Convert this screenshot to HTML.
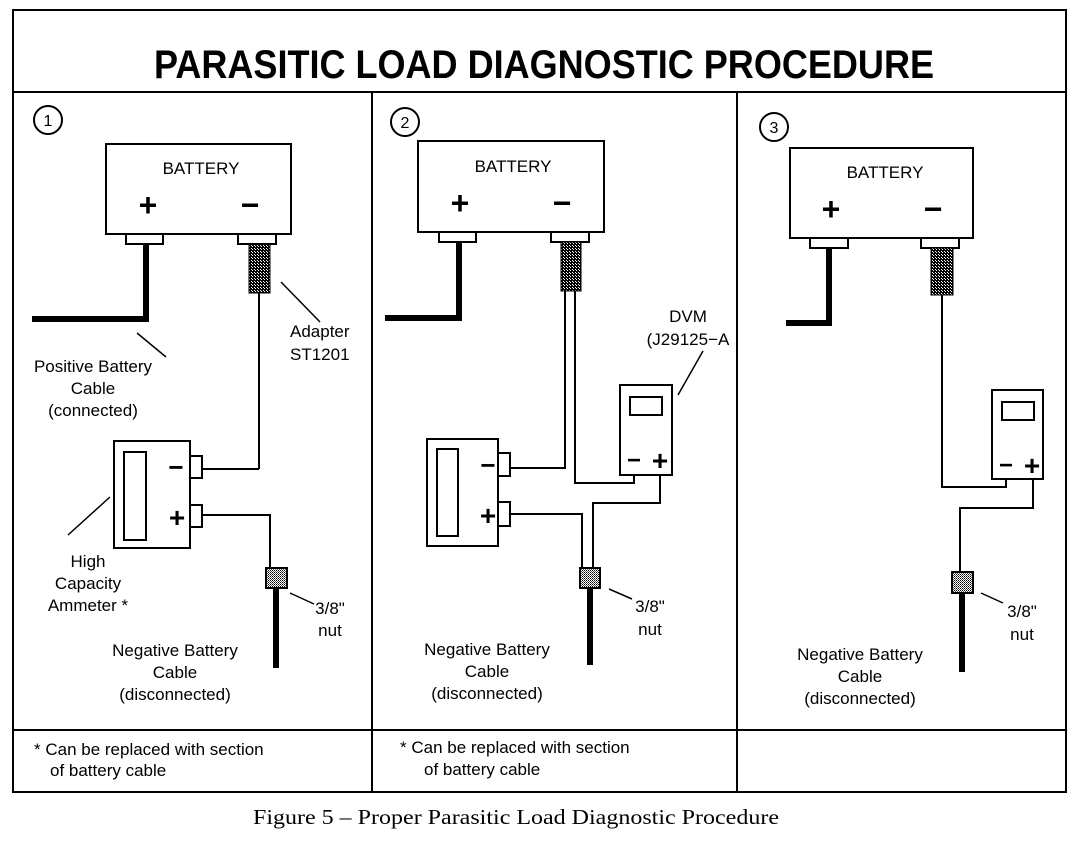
<!DOCTYPE html>
<html><head><style>
body{margin:0;background:#fff;width:1088px;height:848px;overflow:hidden}
svg text{font-family:"Liberation Sans",sans-serif;fill:#000}
</style></head><body>
<svg width="1088" height="848" viewBox="0 0 1088 848" xmlns="http://www.w3.org/2000/svg">
<defs>
<pattern id="h" width="3" height="3" patternUnits="userSpaceOnUse"><rect width="3" height="3" fill="#000"/><rect x="0" y="0" width="1" height="1" fill="#fff"/><rect x="2" y="2" width="1" height="1" fill="#fff"/></pattern>
<pattern id="n" width="2" height="2" patternUnits="userSpaceOnUse"><rect width="2" height="2" fill="#fff"/><rect width="1" height="1" fill="#000"/><rect x="1" y="1" width="1" height="1" fill="#555"/></pattern>
</defs>
<g fill="none" stroke="#000" stroke-width="2">
<rect x="13" y="10" width="1053" height="782"/>
<line x1="13" y1="92" x2="1066" y2="92"/>
<line x1="13" y1="730" x2="1066" y2="730"/>
<line x1="372" y1="92" x2="372" y2="792"/>
<line x1="737" y1="92" x2="737" y2="792"/>
</g>
<text x="544" y="78" font-size="40" font-weight="bold" text-anchor="middle" textLength="780" lengthAdjust="spacingAndGlyphs">PARASITIC LOAD DIAGNOSTIC PROCEDURE</text>

<!-- Panel 1 -->
<g fill="none" stroke="#000" stroke-width="2">
<circle cx="48" cy="120" r="14"/>
<rect x="106" y="144" width="185" height="90"/>
<rect x="126" y="234" width="37" height="10"/>
<rect x="238" y="234" width="38" height="10"/>
<path d="M146 244 V319 H32" stroke-width="6"/>
<line x1="259" y1="293" x2="259" y2="469"/>
<path d="M259 469 H203"/>
<path d="M203 515 H270 V568"/>
<rect x="114" y="441" width="76" height="107"/>
<rect x="124" y="452" width="22" height="88"/>
<rect x="190" y="456" width="12" height="22"/>
<rect x="190" y="505" width="12" height="22"/>
<line x1="276" y1="588" x2="276" y2="668" stroke-width="6"/>
<line x1="137" y1="333" x2="166" y2="357" stroke-width="1.5"/>
<line x1="281" y1="282" x2="320" y2="322" stroke-width="1.5"/>
<line x1="68" y1="535" x2="110" y2="497" stroke-width="1.5"/>
<line x1="290" y1="593" x2="314" y2="604" stroke-width="1.5"/>
</g>
<rect x="249" y="244" width="21" height="49" fill="url(#h)" stroke="#000"/>
<rect x="266" y="568" width="21" height="20" fill="url(#n)" stroke="#000" stroke-width="2"/>
<text x="48" y="126" font-size="16" text-anchor="middle">1</text>
<text x="201" y="174" font-size="17" text-anchor="middle">BATTERY</text>
<text x="148" y="216" font-size="32" font-weight="bold" text-anchor="middle">+</text>
<text x="250" y="216" font-size="32" font-weight="bold" text-anchor="middle">−</text>
<text x="176" y="476" font-size="26" font-weight="bold" text-anchor="middle">−</text>
<text x="177" y="527" font-size="28" font-weight="bold" text-anchor="middle">+</text>
<text font-size="17" text-anchor="middle"><tspan x="93" y="372">Positive Battery</tspan><tspan x="93" y="394">Cable</tspan><tspan x="93" y="416">(connected)</tspan></text>
<text font-size="17"><tspan x="290" y="337">Adapter</tspan><tspan x="290" y="360">ST1201</tspan></text>
<text font-size="17" text-anchor="middle"><tspan x="88" y="567">High</tspan><tspan x="88" y="589">Capacity</tspan><tspan x="88" y="611">Ammeter  *</tspan></text>
<text font-size="17" text-anchor="middle"><tspan x="330" y="614">3/8"</tspan><tspan x="330" y="636">nut</tspan></text>
<text font-size="17" text-anchor="middle"><tspan x="175" y="656">Negative Battery</tspan><tspan x="175" y="678">Cable</tspan><tspan x="175" y="700">(disconnected)</tspan></text>
<text font-size="17"><tspan x="34" y="755">*  Can be replaced with section</tspan><tspan x="50" y="776">of battery cable</tspan></text>

<!-- Panel 2 -->
<g fill="none" stroke="#000" stroke-width="2">
<circle cx="405" cy="122" r="14"/>
<rect x="418" y="141" width="186" height="91"/>
<rect x="439" y="232" width="37" height="10"/>
<rect x="551" y="232" width="38" height="10"/>
<path d="M459 242 V318 H385" stroke-width="6"/>
<path d="M565 291 V468 H510"/>
<path d="M575 291 V483 H634 V475"/>
<path d="M660 475 V503 H593 V568"/>
<path d="M510 514 H582 V568"/>
<rect x="620" y="385" width="52" height="90"/>
<rect x="630" y="397" width="32" height="18"/>
<rect x="427" y="439" width="71" height="107"/>
<rect x="437" y="449" width="21" height="87"/>
<rect x="498" y="453" width="12" height="23"/>
<rect x="498" y="502" width="12" height="24"/>
<line x1="590" y1="588" x2="590" y2="665" stroke-width="6"/>
<line x1="678" y1="395" x2="703" y2="351" stroke-width="1.5"/>
<line x1="609" y1="589" x2="632" y2="599" stroke-width="1.5"/>
</g>
<rect x="561" y="242" width="20" height="49" fill="url(#h)" stroke="#000"/>
<rect x="580" y="568" width="20" height="20" fill="url(#n)" stroke="#000" stroke-width="2"/>
<text x="405" y="128" font-size="16" text-anchor="middle">2</text>
<text x="513" y="172" font-size="17" text-anchor="middle">BATTERY</text>
<text x="460" y="214" font-size="32" font-weight="bold" text-anchor="middle">+</text>
<text x="562" y="214" font-size="32" font-weight="bold" text-anchor="middle">−</text>
<text x="488" y="474" font-size="26" font-weight="bold" text-anchor="middle">−</text>
<text x="488" y="525" font-size="28" font-weight="bold" text-anchor="middle">+</text>
<text x="634" y="468" font-size="24" font-weight="bold" text-anchor="middle">−</text>
<text x="660" y="470" font-size="28" font-weight="bold" text-anchor="middle">+</text>
<text font-size="17" text-anchor="middle"><tspan x="688" y="322">DVM</tspan><tspan x="688" y="345">(J29125−A</tspan></text>
<text font-size="17" text-anchor="middle"><tspan x="650" y="612">3/8"</tspan><tspan x="650" y="635">nut</tspan></text>
<text font-size="17" text-anchor="middle"><tspan x="487" y="655">Negative Battery</tspan><tspan x="487" y="677">Cable</tspan><tspan x="487" y="699">(disconnected)</tspan></text>
<text font-size="17"><tspan x="400" y="753">*  Can be replaced with section</tspan><tspan x="424" y="775">of battery cable</tspan></text>

<!-- Panel 3 -->
<g fill="none" stroke="#000" stroke-width="2">
<circle cx="774" cy="127" r="14"/>
<rect x="790" y="148" width="183" height="90"/>
<rect x="810" y="238" width="38" height="10"/>
<rect x="921" y="238" width="38" height="10"/>
<path d="M829 248 V323 H786" stroke-width="6"/>
<path d="M942 295 V487 H1006 V479"/>
<path d="M1033 479 V508 H960 V572"/>
<rect x="992" y="390" width="51" height="89"/>
<rect x="1002" y="402" width="32" height="18"/>
<line x1="962" y1="593" x2="962" y2="672" stroke-width="6"/>
<line x1="981" y1="593" x2="1003" y2="603" stroke-width="1.5"/>
</g>
<rect x="931" y="248" width="22" height="47" fill="url(#h)" stroke="#000"/>
<rect x="952" y="572" width="21" height="21" fill="url(#n)" stroke="#000" stroke-width="2"/>
<text x="774" y="133" font-size="16" text-anchor="middle">3</text>
<text x="885" y="178" font-size="17" text-anchor="middle">BATTERY</text>
<text x="831" y="220" font-size="32" font-weight="bold" text-anchor="middle">+</text>
<text x="933" y="220" font-size="32" font-weight="bold" text-anchor="middle">−</text>
<text x="1006" y="473" font-size="24" font-weight="bold" text-anchor="middle">−</text>
<text x="1032" y="475" font-size="28" font-weight="bold" text-anchor="middle">+</text>
<text font-size="17" text-anchor="middle"><tspan x="1022" y="617">3/8"</tspan><tspan x="1022" y="640">nut</tspan></text>
<text font-size="17" text-anchor="middle"><tspan x="860" y="660">Negative Battery</tspan><tspan x="860" y="682">Cable</tspan><tspan x="860" y="704">(disconnected)</tspan></text>

<text x="516" y="824" font-size="21" text-anchor="middle" style="font-family:'Liberation Serif',serif" textLength="526" lengthAdjust="spacingAndGlyphs">Figure 5 – Proper Parasitic Load Diagnostic Procedure</text>
</svg>
</body></html>
